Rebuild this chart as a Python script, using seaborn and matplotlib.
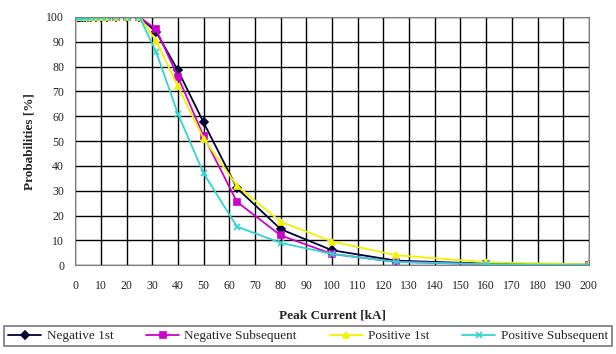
import matplotlib
matplotlib.use("Agg")
import matplotlib.pyplot as plt
import seaborn as sns
import pandas as pd

current = [1, 1.25, 1.6, 2, 2.5, 3.15, 4, 5, 6.3, 8, 10, 12.5, 16, 20, 25,
           31.5, 40, 50, 63, 80, 100, 125, 160, 200]
neg_first = [100]*15 + [94, 78.5, 57.5, 31, 14.5, 6, 1.8, 0.6, 0.2]
neg_subseq = [100]*15 + [95, 76, 52, 25.5, 12, 4.5, 1.3, 0.4, 0.1]
pos_first = [100]*15 + [90.5, 72, 51, 32, 17.5, 9.5, 4, 1.2, 0.3]
pos_subseq = [100]*15 + [86, 61, 37, 15.5, 9, 4.5, 1.3, 0.4, 0.1]

series_names = ["Negative 1st", "Negative Subsequent", "Positive 1st", "Positive Subsequent"]
colors = ["#000033", "#cc00cc", "#f2f200", "#30d5d0"]
markers = ["D", "s", "^", "x"]

rows = []
for name, vals in zip(series_names, [neg_first, neg_subseq, pos_first, pos_subseq]):
    for x, y in zip(current, vals):
        rows.append({"Peak Current": x, "Probability": y, "Series": name})
df = pd.DataFrame(rows)

sns.set_theme(style="white")
plt.rcParams["font.family"] = ["Liberation Serif", "DejaVu Serif"]

fig = plt.figure(figsize=(6.16, 3.54), dpi=100)
ax = fig.add_axes([0.122, 0.251, 0.834, 0.701])

for name, col, mk in zip(series_names, colors, markers):
    sub = df[df["Series"] == name]
    sns.lineplot(data=sub, x="Peak Current", y="Probability", ax=ax, color=col,
                 marker=mk, markersize=5 if mk != "D" else 4, linewidth=1.3,
                 markeredgecolor=col, markeredgewidth=1.2, label=name)

ax.set_xlim(0, 200)
ax.set_ylim(0, 100)
ax.set_xticks(range(0, 201, 10))
ax.set_yticks(range(0, 101, 10))
ax.grid(True, color="black", linewidth=1.0)
ax.set_axisbelow(True)
for s in ax.spines.values():
    s.set_color("#808080")
    s.set_linewidth(0.8)
ax.tick_params(axis="x", labelsize=8.5, length=0, pad=11, colors="#222222")
ax.tick_params(axis="y", labelsize=8.5, length=0, pad=8, colors="#222222")
ax.set_xlabel("Peak Current [kA]", fontsize=9.5, fontweight="bold", labelpad=12)
ax.set_ylabel("Probabilities [%]", fontsize=9.5, fontweight="bold", labelpad=8)

h, l = ax.get_legend_handles_labels()
ax.get_legend().remove()
leg = fig.legend(h, l, loc="center", bbox_to_anchor=(0.5, 0.05), ncol=4,
                 fontsize=9.5, frameon=True, fancybox=False, edgecolor="#555555",
                 handlelength=2.5, columnspacing=2.5, borderpad=0.3, handletextpad=0.4)
leg.get_frame().set_linewidth(1.2)

fig.savefig("out.png", dpi=100)
